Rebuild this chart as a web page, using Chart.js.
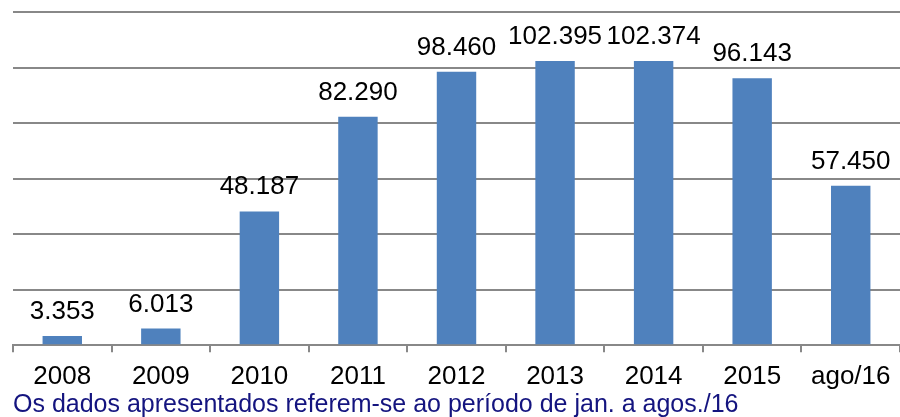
<!DOCTYPE html>
<html lang="pt">
<head>
    <meta charset="UTF-8">
    <title>Dados por ano</title>
    <script src="https://cdn.jsdelivr.net/npm/chart.js"></script>
    <style>
        html, body {
            margin: 0;
            padding: 0;
            background: #ffffff;
        }
        #wrap {
            width: 900px;
            height: 417px;
        }
    </style>
</head>
<body>
    <div id="wrap"><canvas id="grafico"></canvas></div>

    <script>
        const categorias = ['2008', '2009', '2010', '2011', '2012', '2013', '2014', '2015', 'ago/16'];
        const valores = [3353, 6013, 48187, 82290, 98460, 102395, 102374, 96143, 57450];
        const rotulos = ['3.353', '6.013', '48.187', '82.290', '98.460', '102.395', '102.374', '96.143', '57.450'];
        const nota = 'Os dados apresentados referem-se ao período de jan. a agos./16';

        const fonte = 'Arial, "Liberation Sans", sans-serif';

        // rótulos acima das barras
        const rotulosPlugin = {
            id: 'rotulos',
            afterDatasetsDraw(chart) {
                const ctx = chart.ctx;
                const meta = chart.getDatasetMeta(0);
                ctx.save();
                ctx.font = '26px ' + fonte;
                ctx.fillStyle = '#000000';
                ctx.textAlign = 'center';
                ctx.textBaseline = 'alphabetic';
                meta.data.forEach((bar, i) => {
                    ctx.fillText(rotulos[i], bar.x, bar.y - 17);
                });
                ctx.restore();
            }
        };

        const ctx = document.getElementById('grafico').getContext('2d');
        new Chart(ctx, {
            type: 'bar',
            data: {
                labels: categorias,
                datasets: [{
                    data: valores,
                    backgroundColor: '#4F81BD',
                    barPercentage: 0.4,
                    categoryPercentage: 1.0
                }]
            },
            options: {
                responsive: true,
                maintainAspectRatio: false,
                animation: false,
                layout: {
                    padding: { left: 13, right: 0, top: 12, bottom: 0 }
                },
                plugins: {
                    legend: { display: false },
                    tooltip: { enabled: false },
                    title: {
                        display: true,
                        position: 'bottom',
                        align: 'start',
                        text: nota,
                        color: '#14147F',
                        font: { family: fonte, size: 25, weight: 'normal', lineHeight: 0.95 },
                        padding: { top: 0, bottom: 0 }
                    }
                },
                scales: {
                    x: {
                        grid: {
                            display: true,
                            drawOnChartArea: false,
                            offset: true,
                            tickLength: 7,
                            color: '#888888',
                            lineWidth: 2
                        },
                        border: { display: true, color: '#888888', width: 2 },
                        ticks: {
                            color: '#000000',
                            font: { family: fonte, size: 26 },
                            padding: 9,
                            maxRotation: 0,
                            autoSkip: false
                        },
                        afterFit(scale) {
                            scale.height = 48;
                        }
                    },
                    y: {
                        min: 0,
                        max: 120000,
                        ticks: { display: false, stepSize: 20000 },
                        grid: {
                            color: '#888888',
                            lineWidth: 2,
                            drawTicks: false
                        },
                        border: { display: false }
                    }
                }
            },
            plugins: [rotulosPlugin]
        });
    </script>
</body>
</html>
